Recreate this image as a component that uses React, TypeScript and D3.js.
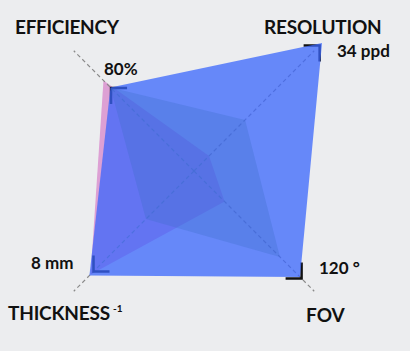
import React from 'react';
import * as d3 from 'd3';

// Axes (clockwise from top-left)
const axisNames = ['EFFICIENCY', 'RESOLUTION', 'FOV', 'THICKNESS'];
const axisValueLabels = ['80%', '34 ppd', '120 °', '8 mm'];
// normalized values (1 = end of axis)
const outerSeries = [0.695, 1.065, 0.882, 0.87];
const pinkSeries = [0.753, 0.125, 0.254, 0.86];
const innerSeries = [0.695, 0.425, 0.715, 0.4];
const markerSeries = [0.69, 1.045, 0.895, 0.836];

const W = 410;
const H = 351;
const CX = 194;
const CY = 171;
const R = 170;

const angles = [-Math.PI / 4, Math.PI / 4, (3 * Math.PI) / 4, (5 * Math.PI) / 4];

export default function App() {
  const r = d3.scaleLinear().domain([0, 1]).range([0, R]);
  const radial = d3
    .lineRadial<number>()
    .angle((_, i) => angles[i])
    .radius((d) => r(d))
    .curve(d3.curveLinearClosed);

  const pt = (v: number, i: number) => [r(v) * Math.sin(angles[i]), -r(v) * Math.cos(angles[i])];

  const chevron = (v: number, i: number) => {
    const [x, y] = pt(v, i);
    const a = angles[i];
    const ux = -Math.sin(a);
    const uy = Math.cos(a);
    const L = 16;
    const rot = (t: number) => [ux * Math.cos(t) - uy * Math.sin(t), ux * Math.sin(t) + uy * Math.cos(t)];
    const [ax, ay] = rot(Math.PI / 4);
    const [bx, by] = rot(-Math.PI / 4);
    return `M${x + ax * L},${y + ay * L}L${x},${y}L${x + bx * L},${y + by * L}`;
  };

  const font = 'Lato, "DejaVu Sans", sans-serif';

  return (
    <svg width={W} height={H} style={{ position: 'absolute', left: 0, top: 0, display: 'block' }}>
      <rect width={W} height={H} fill="#ECEDEF" />
      <g transform={`translate(${CX},${CY})`}>
        <path d={radial(pinkSeries) || ''} fill="#DDA0D4" />
        {angles.map((a, i) => {
          const [x, y] = pt(1, i);
          return (
            <line key={i} x1={0} y1={0} x2={x} y2={y} stroke="#8a8a8a" strokeWidth={1.2} strokeDasharray="4,3" />
          );
        })}
        {markerSeries.map((v, i) => (
          <path key={i} d={chevron(v, i)} fill="none" stroke="#111" strokeWidth={2.5} />
        ))}
        <path d={radial(outerSeries) || ''} fill="#3966FC" fillOpacity={0.75} />
        <path d={radial(innerSeries) || ''} fill="#3c6ec8" fillOpacity={0.3} />
      </g>
      <g fontFamily={font} fontWeight={700} fill="#111">
        <text x={15} y={34} fontSize={19} letterSpacing={-0.3}>{axisNames[0]}</text>
        <text x={264} y={34} fontSize={19} letterSpacing={-0.2}>{axisNames[1]}</text>
        <text x={306} y={322} fontSize={19}>{axisNames[2]}</text>
        <text x={8} y={320} fontSize={19} letterSpacing={-0.2}>{axisNames[3]}</text>
        <text x={113} y={312} fontSize={10}>-1</text>
        <text x={104} y={75} fontSize={17}>{axisValueLabels[0]}</text>
        <text x={337} y={57} fontSize={17}>{axisValueLabels[1]}</text>
        <text x={319} y={274} fontSize={17}>{axisValueLabels[2]}</text>
        <text x={31} y={269} fontSize={17}>{axisValueLabels[3]}</text>
      </g>
    </svg>
  );
}
